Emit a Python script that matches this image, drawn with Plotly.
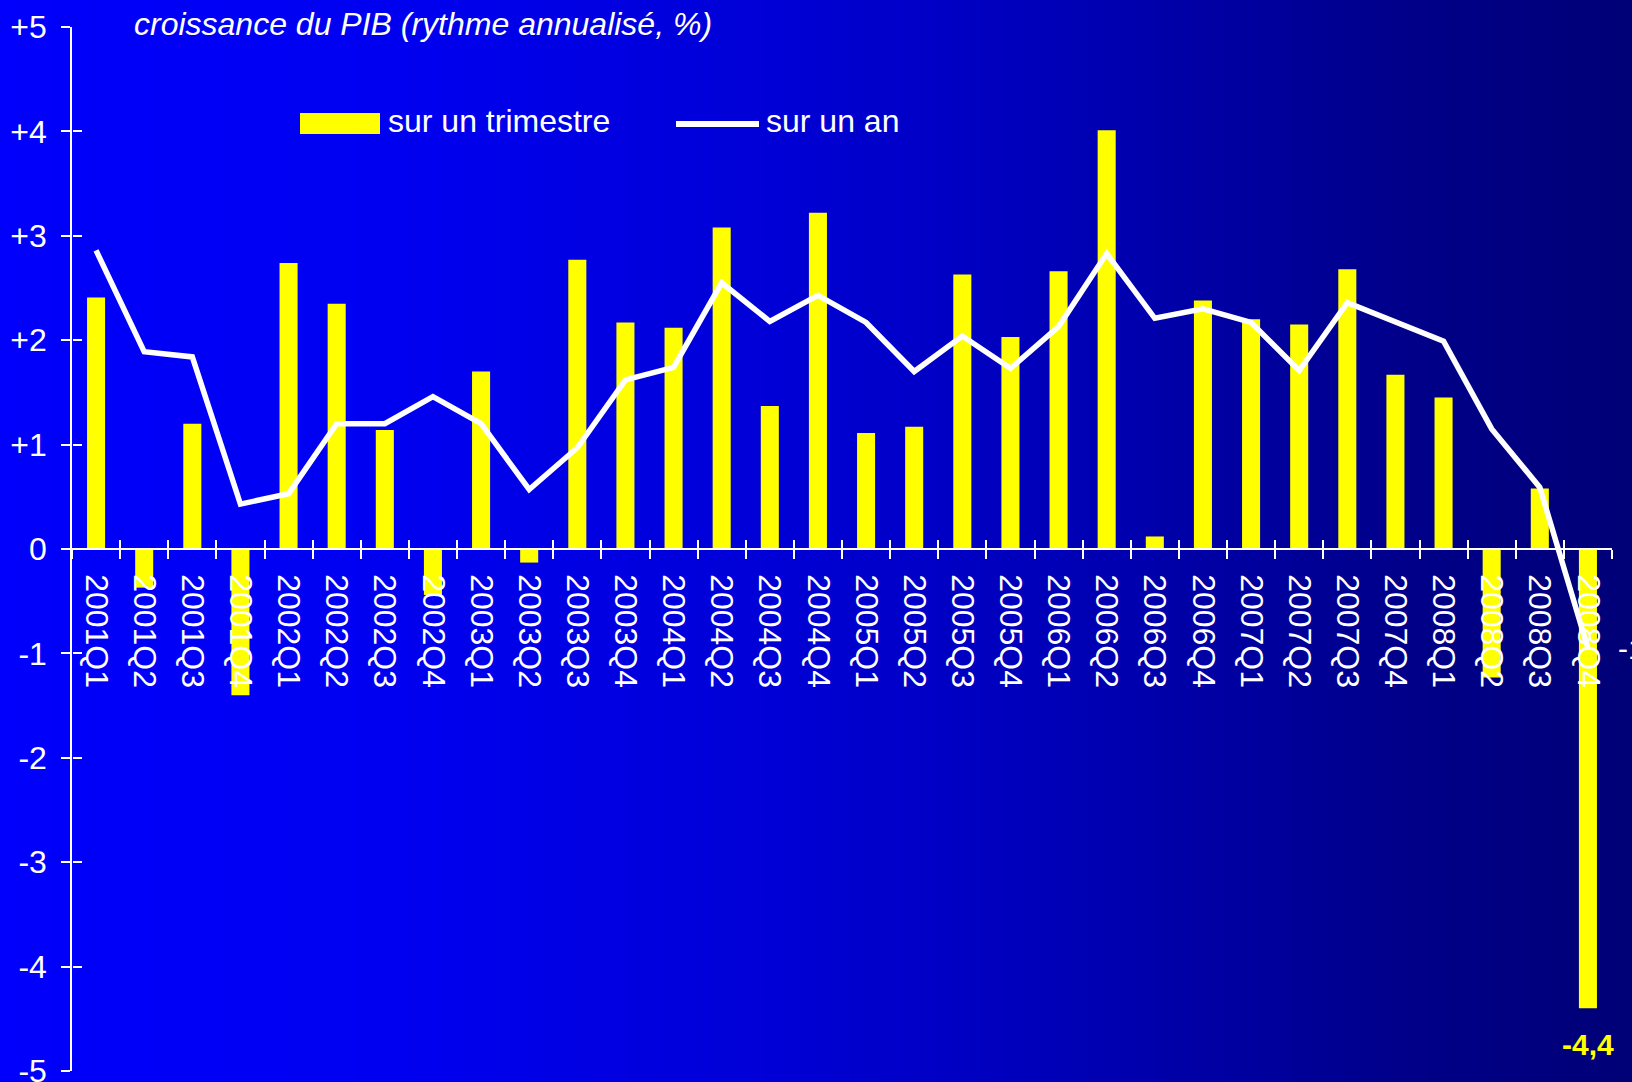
"""Croissance du PIB : rythme trimestriel et annuel (annualisé, %)."""

import plotly.graph_objects as go

quarters = [
    "2001Q1", "2001Q2", "2001Q3", "2001Q4",
    "2002Q1", "2002Q2", "2002Q3", "2002Q4",
    "2003Q1", "2003Q2", "2003Q3", "2003Q4",
    "2004Q1", "2004Q2", "2004Q3", "2004Q4",
    "2005Q1", "2005Q2", "2005Q3", "2005Q4",
    "2006Q1", "2006Q2", "2006Q3", "2006Q4",
    "2007Q1", "2007Q2", "2007Q3", "2007Q4",
    "2008Q1", "2008Q2", "2008Q3", "2008Q4",
]
sur_un_trimestre = [
    2.41, -0.37, 1.20, -1.40, 2.74, 2.35, 1.14, -0.44,
    1.70, -0.13, 2.77, 2.17, 2.12, 3.08, 1.37, 3.22,
    1.11, 1.17, 2.63, 2.03, 2.66, 4.01, 0.12, 2.38,
    2.20, 2.15, 2.68, 1.67, 1.45, -1.23, 0.58, -4.40,
]
sur_un_an = [
    2.86, 1.89, 1.84, 0.43, 0.53, 1.20, 1.20, 1.46,
    1.20, 0.57, 0.97, 1.62, 1.74, 2.55, 2.18, 2.43,
    2.17, 1.70, 2.04, 1.73, 2.13, 2.83, 2.21, 2.30,
    2.17, 1.71, 2.36, 2.18, 1.99, 1.15, 0.59, -0.95,
]
y_ticks = [5, 4, 3, 2, 1, 0, -1, -2, -3, -4, -5]
y_ticktext = ["+5", "+4", "+3", "+2", "+1", "0", "-1", "-2", "-3", "-4", "-5"]
label_bar = "-4,4"
label_line = "-1,0"

FONT = "Liberation Sans, Arial, sans-serif"
FS = 32
W, H = 1632, 1082
ML, MR, MT, MB = 72, 20, 27, 11
PW, PH = W - ML - MR, H - MT - MB


def px(x):
    return (x - ML) / PW


def py(y):
    return (H - MB - y) / PH


def bg_blue(x):
    # horizontal gradient: bright blue on the left, navy on the right
    stops = [(0, 252), (400, 240), (800, 212), (1100, 178), (1400, 138), (1632, 118)]
    for (x0, b0), (x1, b1) in zip(stops, stops[1:]):
        if x <= x1:
            return b0 + (b1 - b0) * (x - x0) / (x1 - x0)
    return stops[-1][1]


fig = go.Figure()
fig.add_trace(
    go.Bar(
        x=quarters,
        y=sur_un_trimestre,
        name="sur un trimestre",
        marker=dict(color="#ffff00", line=dict(width=0)),
    )
)
fig.add_trace(
    go.Scatter(
        x=quarters,
        y=sur_un_an,
        name="sur un an",
        mode="lines",
        line=dict(color="white", width=5.5),
        xaxis="x2",
        yaxis="y2",
    )
)

shapes = []
n_strips = 96
step = W / n_strips
for i in range(n_strips):
    x0 = i * step
    b = int(round(bg_blue(x0 + step / 2)))
    shapes.append(
        dict(
            type="rect", xref="paper", yref="paper", layer="below",
            x0=px(x0), x1=px(x0 + step + 1), y0=py(H), y1=py(0),
            fillcolor=f"rgb(0,0,{b})", line=dict(width=0),
        )
    )
# legend swatches
shapes.append(
    dict(
        type="rect", xref="paper", yref="paper",
        x0=px(300), x1=px(380), y0=py(134), y1=py(113),
        fillcolor="#ffff00", line=dict(width=0),
    )
)
shapes.append(
    dict(
        type="line", xref="paper", yref="paper",
        x0=px(676), x1=px(759), y0=py(124), y1=py(124),
        line=dict(color="white", width=6),
    )
)

annotations = [
    dict(
        text="<i>croissance du PIB (rythme annualisé, %)</i>",
        xref="paper", yref="paper", x=px(132), y=py(24),
        xanchor="left", yanchor="middle", showarrow=False,
        font=dict(family=FONT, size=FS, color="white"),
    ),
    dict(
        text="sur un trimestre",
        xref="paper", yref="paper", x=px(386), y=py(121),
        xanchor="left", yanchor="middle", showarrow=False,
        font=dict(family=FONT, size=FS, color="white"),
    ),
    dict(
        text="sur un an",
        xref="paper", yref="paper", x=px(764), y=py(121),
        xanchor="left", yanchor="middle", showarrow=False,
        font=dict(family=FONT, size=FS, color="white"),
    ),
    dict(
        text=f"<b>{label_bar}</b>",
        x=quarters[-1], y=sur_un_trimestre[-1],
        xanchor="center", yanchor="top", yshift=-18, showarrow=False,
        font=dict(family=FONT, size=30, color="#ffff00"),
    ),
    dict(
        text=label_line,
        x=quarters[-1], y=sur_un_an[-1],
        xanchor="left", yanchor="middle", xshift=28, showarrow=False,
        font=dict(family=FONT, size=30, color="white"),
    ),
]

x_range = [-0.5, len(quarters) - 0.5]
fig.update_layout(
    template="none",
    width=W,
    height=H,
    autosize=False,
    margin=dict(l=ML, r=MR, t=MT, b=MB, pad=0),
    paper_bgcolor="rgb(0,0,180)",
    plot_bgcolor="rgba(0,0,0,0)",
    showlegend=False,
    bargap=0.625,
    font=dict(family=FONT, size=FS, color="white"),
    shapes=shapes,
    annotations=annotations,
    xaxis=dict(
        type="category",
        categoryorder="array",
        categoryarray=quarters,
        range=x_range,
        automargin=False,
        anchor="free",
        position=0.5,
        showline=True,
        linecolor="white",
        linewidth=1.5,
        showgrid=False,
        zeroline=False,
        ticks="outside",
        tickson="boundaries",
        ticklen=9,
        tickwidth=1.5,
        tickcolor="white",
        tickangle=90,
        ticklabelstandoff=18,
        tickfont=dict(family=FONT, size=FS, color="white"),
    ),
    xaxis2=dict(
        type="category",
        categoryorder="array",
        categoryarray=quarters,
        range=x_range,
        automargin=False,
        overlaying="x",
        anchor="free",
        position=0.5,
        showline=False,
        showgrid=False,
        zeroline=False,
        ticks="inside",
        tickson="boundaries",
        ticklen=9,
        tickwidth=1.5,
        tickcolor="white",
        showticklabels=False,
    ),
    yaxis=dict(
        range=[-5, 5],
        automargin=False,
        tickmode="array",
        tickvals=y_ticks,
        ticktext=y_ticktext,
        showline=True,
        linecolor="white",
        linewidth=1.5,
        showgrid=False,
        zeroline=False,
        ticks="outside",
        ticklen=9,
        tickwidth=1.5,
        tickcolor="white",
        ticklabelstandoff=8,
        ticklabeloverflow="allow",
        tickfont=dict(family=FONT, size=FS, color="white"),
    ),
    yaxis2=dict(
        range=[-5, 5],
        automargin=False,
        overlaying="y",
        anchor="free",
        position=0,
        side="left",
        tickmode="array",
        tickvals=y_ticks,
        showline=False,
        showgrid=False,
        zeroline=False,
        ticks="inside",
        ticklen=9,
        tickwidth=1.5,
        tickcolor="white",
        showticklabels=False,
    ),
)

# the page's default body margin would shift the whole chart by 8 px
fig.write_html(
    "out.html",
    config={"displayModeBar": False},
    post_script="document.body.style.margin = '0';",
)
